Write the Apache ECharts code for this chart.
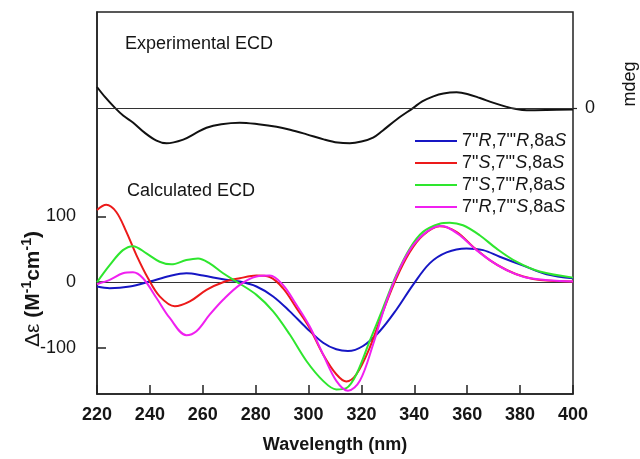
<!DOCTYPE html>
<html>
<head>
<meta charset="utf-8">
<script src="https://cdn.jsdelivr.net/npm/echarts@6/dist/echarts.min.js"></script>
<style>
  html, body { margin: 0; padding: 0; background: #fff; }
  #chart { width: 640px; height: 459px; }
</style>
</head>
<body>
<div id="chart"></div>
<script>
// Wavelength axis
const xMin = 220, xMax = 400, xStep = 20;
// Calculated ECD axis (Δε) and its labelled ticks
const calcMin = -170, calcMax = 411;
const calcTicks = [-100, 0, 100];

// Experimental ECD (mdeg), [wavelength nm, value]
const expCD = [[220,2.1],[223,1.1],[226.8,0],[230,-0.8],[233.7,-1.5],[238,-2.5],[242.5,-3.3],[246.3,-3.57],
  [252.6,-3.2],[257,-2.6],[261.4,-2.0],[267,-1.65],[274,-1.5],[281,-1.65],[287.9,-1.9],[293,-2.2],
  [299.3,-2.67],[306,-3.2],[311,-3.5],[315.6,-3.57],[320,-3.4],[324.4,-3.0],[328,-2.3],[333.3,-1.17],
  [339.6,0],[343,0.65],[347.2,1.16],[351,1.45],[356,1.56],[360,1.4],[364.8,0.99],[370,0.5],
  [374.9,0.1],[378,-0.1],[382.5,-0.24],[390,-0.22],[400,-0.17]];

// Calculated ECD spectra, [wavelength nm, Δε]
const calcRR = [[220,-6.5],[224.8,-9],[232.4,-6.5],[239.9,1],[247.5,9.6],[253.8,13.6],[260.1,10.1],
  [267.7,4.5],[274,1],[280.3,-6.5],[286.6,-21.6],[292.9,-44.3],[299.2,-69.5],[305.5,-92],[310.5,-102],
  [314.9,-104.7],[320.6,-97],[326.9,-74.5],[333.2,-41.8],[339.5,-4],[345.8,28.7],[352.2,45.3],
  [359.7,51.4],[366,48.8],[372.3,38.8],[381.2,25.2],[390,12.1],[400,6]];
const calcSS = [[220,110],[223.5,117.8],[227.3,106.8],[231.1,76.6],[234.9,41.3],[239.3,6],[243.7,-21.6],
  [249.4,-36.7],[255.1,-29.2],[261.4,-11.6],[267.7,0],[274,6],[280.3,10.1],[285.3,8],[290.3,-9],
  [295.4,-39],[300.4,-69.5],[305.5,-109.8],[310.5,-140],[314.3,-151],[318.1,-140],[323.1,-99.7],
  [328.2,-44],[333.2,6],[338.3,46],[343.3,71.5],[349.6,85],[355.9,76.6],[362.2,53.9],[368.5,33.7],
  [374.9,18.6],[381.2,8.6],[387.5,3.5],[400,1]];
const calcSR = [[220,0],[224.8,26],[229.8,48.8],[233.6,54.9],[238.7,43.8],[243.7,31.2],[248.1,27.2],
  [253.8,33.7],[258.2,36.2],[262.6,28.7],[267.7,13.6],[272.7,1],[280.3,-19.2],[286.6,-44.3],
  [292.9,-79.6],[299.2,-119.8],[305.5,-150],[310.5,-163],[314.3,-161],[318.1,-140],[323.1,-89.6],
  [328.2,-39],[333.2,11],[338.3,51.4],[343.3,76.6],[349.6,89],[353.4,90.6],[358.4,86.6],[364.7,71.5],
  [371,51.4],[378.6,31.2],[387.4,16.2],[400,7]];
const calcRS = [[220,-3],[224.8,3.5],[229.8,13.6],[233.6,15.1],[237.4,6],[242.5,-24],[247.5,-54.4],
  [253.8,-80.5],[257.6,-74.5],[262.6,-49.4],[267.7,-26.7],[274,-4],[280.3,8.6],[285.3,10.1],
  [290.3,-4],[295.4,-34.3],[300.4,-67],[305.5,-109.8],[310.5,-150],[314.9,-165],[319.4,-150],
  [324.4,-94.7],[329.5,-29],[334.5,21],[339.5,56],[344.6,76.6],[349.6,85.6],[352.2,84],[357.2,71.5],
  [363.5,48.8],[369.8,30.2],[376.1,16.2],[383.7,6],[400,1]];

const seriesNames = ['7"R,7"\'R,8aS', '7"S,7"\'S,8aS', '7"S,7"\'R,8aS', '7"R,7"\'S,8aS'];
const seriesData = [calcRR, calcSS, calcSR, calcRS];
const seriesColors = ['#1616c4', '#ec1a1a', '#2ee62e', '#f020f0'];

const chart = echarts.init(document.getElementById('chart'), null, { renderer: 'canvas' });

const fontFamily = 'Arial, "Liberation Sans", Helvetica, sans-serif';
const ink = '#151515';

// Italicise the configuration descriptors R and S in legend names
function richName(name) {
  return '{n|' + name.replace(/([RS])/g, '}{i|$1}{n|') + '}';
}

const calcSeries = seriesNames.map((name, i) => ({
  name: name,
  type: 'line',
  xAxisIndex: 0,
  yAxisIndex: 0,
  data: seriesData[i],
  smooth: 0.35,
  showSymbol: false,
  lineStyle: { color: seriesColors[i], width: 2 },
  itemStyle: { color: seriesColors[i] },
  z: 3 + i
}));

// Zero line of the calculated spectra
calcSeries[0].markLine = {
  silent: true,
  symbol: 'none',
  label: { show: false },
  lineStyle: { color: '#333', width: 1.2, type: 'solid' },
  data: [{ yAxis: 0 }],
  z: 1
};

const option = {
  backgroundColor: '#fff',
  animation: false,
  textStyle: { fontFamily: fontFamily },
  grid: {
    left: 97, right: 67, top: 12, bottom: 62,
    show: true, borderColor: '#222', borderWidth: 1.5, backgroundColor: 'transparent'
  },
  legend: {
    data: seriesNames,
    orient: 'vertical',
    left: 410,
    top: 127,
    itemWidth: 42,
    itemHeight: 2,
    itemGap: 4,
    icon: 'rect',
    formatter: richName,
    textStyle: {
      color: ink,
      fontSize: 18,
      lineHeight: 18,
      rich: {
        n: { fontSize: 18, fontFamily: fontFamily, color: ink },
        i: { fontSize: 18, fontFamily: fontFamily, fontStyle: 'italic', color: ink }
      }
    }
  },
  xAxis: {
    type: 'value',
    min: xMin, max: xMax, interval: xStep,
    name: 'Wavelength (nm)',
    nameLocation: 'middle',
    nameGap: 42,
    nameTextStyle: { fontSize: 18, fontWeight: 'bold', color: ink },
    axisLine: { show: true, onZero: false, lineStyle: { color: '#222', width: 1.5 } },
    axisTick: { show: true, inside: true, length: 9, lineStyle: { color: '#222', width: 1.5 } },
    axisLabel: { fontSize: 18, fontWeight: 'bold', color: ink, margin: 12 },
    splitLine: { show: false }
  },
  yAxis: [
    {
      type: 'value',
      min: calcMin, max: calcMax,
      position: 'left',
      axisLine: { show: true, onZero: false, lineStyle: { color: '#222', width: 1.5 } },
      axisTick: { show: true, inside: true, length: 9, customValues: calcTicks, lineStyle: { color: '#222', width: 1.5 } },
      axisLabel: { fontSize: 18, color: ink, margin: 21, customValues: calcTicks },
      splitLine: { show: false }
    },
    {
      type: 'value',
      min: -28.84, max: 9.66,
      position: 'right',
      axisLine: { show: false, onZero: false },
      axisTick: { show: true, inside: false, length: 4, customValues: [0], lineStyle: { color: '#222', width: 1.2 } },
      axisLabel: { fontSize: 18, color: ink, margin: 12, customValues: [0] },
      splitLine: { show: false }
    }
  ],
  graphic: [
    {
      type: 'text', left: 125, top: 35,
      style: { text: 'Experimental ECD', fontSize: 18, fontFamily: fontFamily, fill: ink }
    },
    {
      type: 'text', left: 127, top: 182,
      style: { text: 'Calculated ECD', fontSize: 18, fontFamily: fontFamily, fill: ink }
    },
    {
      type: 'text', x: 630, y: 84, rotation: Math.PI / 2,
      style: { text: 'mdeg', fontSize: 18, fontFamily: fontFamily, fill: ink, align: 'center', verticalAlign: 'middle' }
    },
    {
      type: 'text', x: 32, y: 289, rotation: Math.PI / 2,
      style: {
        text: '{d|Δε }{b|(M}{s|-1}{b|cm}{s|-1}{b|)}',
        align: 'center', verticalAlign: 'middle',
        rich: {
          d: { fontSize: 21, fontFamily: fontFamily, fill: ink, lineHeight: 24, verticalAlign: 'bottom' },
          b: { fontSize: 21, fontWeight: 'bold', fontFamily: fontFamily, fill: ink, lineHeight: 24, verticalAlign: 'bottom' },
          s: { fontSize: 14, fontWeight: 'bold', fontFamily: fontFamily, fill: ink, lineHeight: 24, verticalAlign: 'top' }
        }
      }
    }
  ],
  series: [
    {
      name: 'Experimental ECD',
      type: 'line',
      xAxisIndex: 0,
      yAxisIndex: 1,
      data: expCD,
      smooth: 0.35,
      showSymbol: false,
      lineStyle: { color: '#111', width: 2 },
      itemStyle: { color: '#111' },
      z: 3,
      markLine: {
        silent: true,
        symbol: 'none',
        label: { show: false },
        lineStyle: { color: '#333', width: 1.2, type: 'solid' },
        data: [{ yAxis: 0 }]
      }
    }
  ].concat(calcSeries)
};

chart.setOption(option);
</script>
</body>
</html>
